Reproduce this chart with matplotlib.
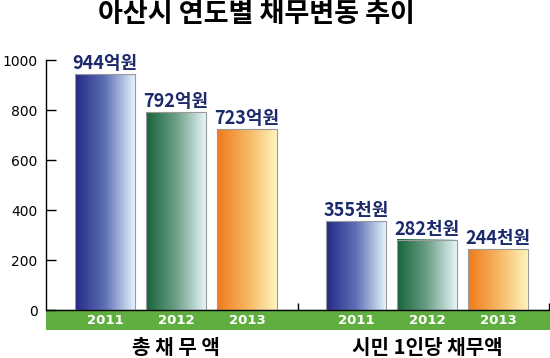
import numpy as np
import matplotlib
matplotlib.use('Agg')
import matplotlib.pyplot as plt
from matplotlib.colors import LinearSegmentedColormap

plt.rcParams['font.family'] = ['DejaVu Sans', 'Noto Sans CJK KR']

# data
years = ['2011', '2012', '2013']
total_debt = [944, 792, 723]          # 억원
per_capita = [355, 282, 244]          # 천원
total_labels = ['944억원', '792억원', '723억원']
capita_labels = ['355천원', '282천원', '244천원']
group_names = ['총 채 무 액', '시민 1인당 채무액']
title = '아산시 연도별 채무변동 추이'

# bar gradient colours (dark left -> light right)
grads = [['#252a86', '#5d6fb4', '#e4f3fc'],
         ['#17643a', '#6b9f86', '#e6f5f7'],
         ['#ef7a1c', '#f5b560', '#fff4bd']]
band_green = '#5fae3f'
label_color = '#1b2a6b'
kr = ['Noto Sans CJK KR', 'DejaVu Sans']

fig = plt.figure(figsize=(5.5, 3.58), dpi=100)
ax = fig.add_axes([46/550, 28/358, 1 - 46/550, 270/358])

x1 = np.arange(3)
x2 = x1 + 3.535
w = 0.845

bars1 = ax.bar(x1, total_debt, width=w, color='none', edgecolor='#9a9a9a', lw=0.8, zorder=3)
bars2 = ax.bar(x2, per_capita, width=w, color='none', edgecolor='#9a9a9a', lw=0.8, zorder=3)

grad = np.linspace(0, 1, 256).reshape(1, -1)
for bars in (bars1, bars2):
    for i, p in enumerate(bars):
        cmap = LinearSegmentedColormap.from_list('g%d' % i, grads[i])
        ax.imshow(grad, cmap=cmap, aspect='auto', zorder=2,
                  extent=(p.get_x(), p.get_x() + p.get_width(), 0, p.get_height()))

for bars, labs in ((bars1, total_labels), (bars2, capita_labels)):
    for p, lab in zip(bars, labs):
        ax.text(p.get_x() + p.get_width() / 2, p.get_height() + 4, lab,
                ha='center', va='bottom', fontsize=13, fontweight='heavy',
                family=kr, color=label_color, zorder=5)

ax.set_xlim(-0.831, 6.268)
ax.set_ylim(-80, 1000)

# green band with years
ax.axhspan(-80, 0, color=band_green, zorder=1)
ax.axhline(0, color='black', lw=1, zorder=4)
for xs in (x1, x2):
    for xx, yr in zip(xs, years):
        ax.text(xx, -40, yr, ha='center', va='center', color='white',
                fontsize=9.5, fontweight='bold', zorder=5)
mid = (x1[-1] + x2[0]) / 2 - 0.05
ax.vlines([mid, 6.25], 0, 28, color='black', lw=1, zorder=4)

# group names
ax.text(x1.mean(), -150, group_names[0], ha='center', va='center',
        fontsize=14.5, fontweight='heavy', family=kr, clip_on=False)
ax.text(x2.mean(), -150, group_names[1], ha='center', va='center',
        fontsize=14.5, fontweight='heavy', family=kr, clip_on=False)

for s in ('top', 'right', 'bottom'):
    ax.spines[s].set_visible(False)
ax.spines['left'].set_bounds(0, 1000)
ax.spines['left'].set_linewidth(1)
ax.set_yticks([0, 200, 400, 600, 800, 1000])
ax.tick_params(axis='y', direction='in', length=7, width=1, labelsize=10, pad=6)
ax.set_xticks([])

fig.text(256/550, 1 - 14/358, title, ha='center', va='center',
         fontsize=19.5, fontweight='heavy', family=kr)

fig.savefig('out.png', dpi=100)
